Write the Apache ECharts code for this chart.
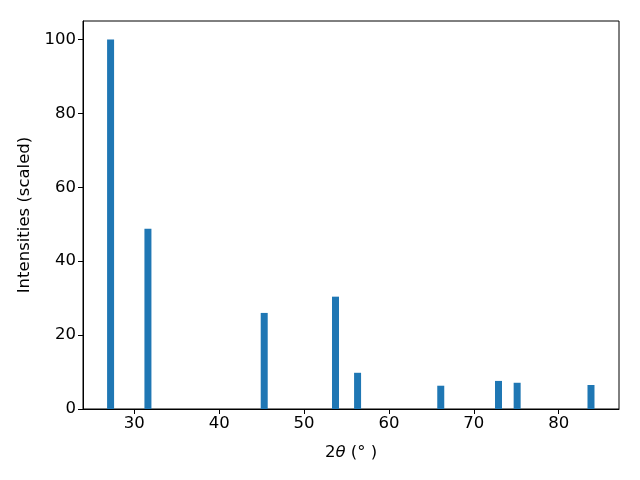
<!DOCTYPE html>
<html>
<head>
<meta charset="utf-8">
<script src="https://cdn.jsdelivr.net/npm/echarts@6/dist/echarts.min.js"></script>
<style>html,body{margin:0;padding:0;background:#fff}#c{width:640px;height:480px}</style>
</head>
<body>
<div id="c"></div>
<script>
const twoTheta = [27.2, 31.6, 45.3, 53.7, 56.3, 66.1, 72.9, 75.1, 83.8];
const intensity = [100, 48.8, 26.0, 30.4, 9.8, 6.3, 7.6, 7.1, 6.5];
const xTicks = [30, 40, 50, 60, 70, 80];

const chart = echarts.init(document.getElementById('c'), null, {renderer: 'canvas'});
const font = 'DejaVu Sans';
const fs = 16.5;
chart.setOption({
  animation: false,
  grid: {left: 83, right: 21, top: 21, bottom: 71, show: true, borderColor: '#000', borderWidth: 1, backgroundColor: 'transparent'},
  xAxis: {
    type: 'value', min: 23.95, max: 87.1,
    name: '2{i|θ} (° )', nameLocation: 'middle', nameGap: 35,
    nameTextStyle: {fontFamily: font, fontSize: fs, color: '#000', rich: {i: {fontFamily: font, fontStyle: 'italic', fontSize: fs, color: '#000'}}},
    axisLine: {onZero: false, lineStyle: {color: '#000', width: 1}},
    axisTick: {show: true, inside: false, length: 5, lineStyle: {color: '#000'}, customValues: xTicks},
    axisLabel: {fontFamily: font, fontSize: fs, color: '#000', margin: 6, customValues: xTicks},
    splitLine: {show: false}
  },
  yAxis: {
    type: 'value', min: 0, max: 105, interval: 20,
    name: 'Intensities (scaled)', nameLocation: 'middle', nameGap: 49, nameRotate: 90,
    nameTextStyle: {fontFamily: font, fontSize: fs, color: '#000'},
    axisLine: {show: true, lineStyle: {color: '#000', width: 1}},
    axisTick: {show: true, inside: false, length: 5, lineStyle: {color: '#000'}},
    axisLabel: {fontFamily: font, fontSize: fs, color: '#000', margin: 7, showMaxLabel: false},
    splitLine: {show: false}
  },
  series: [{
    type: 'bar',
    data: twoTheta.map((x, i) => [x, intensity[i]]),
    barWidth: 7,
    itemStyle: {color: '#1f77b4'}
  }]
});
</script>
</body>
</html>
